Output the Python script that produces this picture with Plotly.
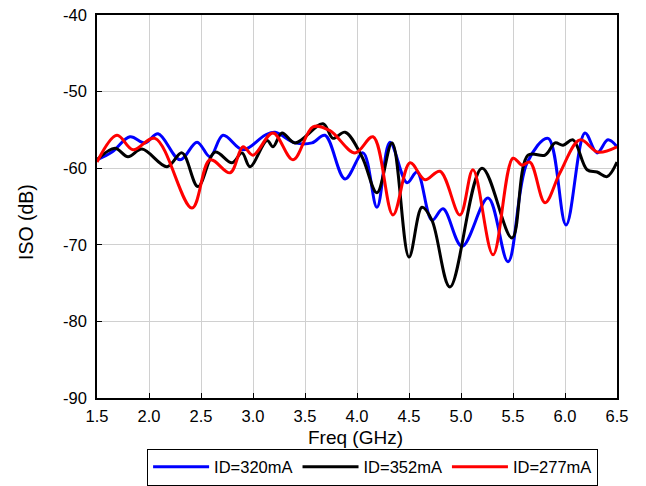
import plotly.graph_objects as go

# Blue: ID=320mA
f_320 = [1.5, 1.644, 1.817, 1.962, 2.087, 2.298, 2.462, 2.587, 2.712, 2.904, 3.115, 3.212, 3.404, 3.567,
         3.692, 3.885, 4.058, 4.192, 4.317, 4.481, 4.577, 4.721, 4.827, 5.010, 5.260, 5.452, 5.635,
         5.837, 6.010, 6.192, 6.308, 6.413, 6.5]
iso_320 = [-58.9, -57.9, -55.9, -56.7, -55.5, -58.9, -56.6, -58.5, -55.7, -57.6, -55.7, -55.3, -56.7, -56.7,
           -55.7, -61.4, -58.0, -65.1, -56.6, -61.9, -60.5, -66.8, -65.3, -70.2, -63.9, -72.2, -59.3,
           -56.1, -67.4, -55.4, -58.0, -56.3, -57.2]

# Black: ID=352mA
f_352 = [1.5, 1.673, 1.798, 1.933, 2.173, 2.317, 2.471, 2.635, 2.798, 2.894, 2.971, 3.135, 3.192, 3.279,
         3.404, 3.673, 3.769, 3.885, 4.048, 4.192, 4.337, 4.500, 4.625, 4.721, 4.894, 5.202, 5.490,
         5.644, 5.808, 5.904, 5.981, 6.077, 6.212, 6.308, 6.404, 6.5]
iso_352 = [-58.9, -57.4, -58.5, -57.5, -59.8, -58.0, -62.4, -57.9, -59.3, -58.0, -59.8, -56.4, -57.2, -55.4,
           -56.7, -54.2, -56.1, -55.3, -58.5, -63.2, -56.7, -71.6, -65.1, -66.8, -75.5, -60.0, -69.1,
           -58.3, -58.3, -56.7, -57.0, -56.3, -60.2, -60.5, -61.1, -59.2]

# Red: ID=277mA
f_277 = [1.5, 1.692, 1.846, 2.058, 2.413, 2.587, 2.779, 2.904, 3.000, 3.192, 3.385, 3.577, 3.740, 3.981,
         4.154, 4.346, 4.510, 4.654, 4.798, 4.990, 5.115, 5.308, 5.500, 5.587, 5.663, 5.808, 5.952,
         6.144, 6.317, 6.5]
iso_277 = [-59.2, -55.7, -57.6, -56.1, -65.2, -58.9, -60.6, -57.2, -58.3, -55.4, -58.9, -54.6, -55.1, -58.0,
           -55.9, -66.1, -59.3, -61.5, -60.4, -66.1, -60.2, -71.3, -58.7, -59.6, -59.2, -64.5, -60.6,
           -56.3, -57.9, -57.2]

x_ticks = [1.5, 2.0, 2.5, 3.0, 3.5, 4.0, 4.5, 5.0, 5.5, 6.0, 6.5]
y_ticks = [-90, -80, -70, -60, -50, -40]

series = [
    ("ID=320mA", f_320, iso_320, "#0000ff"),
    ("ID=352mA", f_352, iso_352, "#000000"),
    ("ID=277mA", f_277, iso_277, "#ff0000"),
]

fig = go.Figure()
for name, xs, ys, col in series:
    fig.add_trace(go.Scatter(x=xs, y=ys, mode="lines", name=name,
                             line=dict(color=col, width=3, shape="spline", smoothing=1.0)))

font_family = "Liberation Sans, Arial, sans-serif"
axis_common = dict(showline=True, linecolor="black", linewidth=1.5, mirror=True,
                   showgrid=True, gridcolor="#d0d0d0", gridwidth=1,
                   ticks="inside", ticklen=5, tickcolor="black", zeroline=False,
                   automargin=False,
                   tickfont=dict(family=font_family, size=16.5, color="black"))

fig.update_layout(
    width=646, height=486,
    margin=dict(l=97, r=29, t=15, b=88, autoexpand=False),
    paper_bgcolor="white", plot_bgcolor="white",
    font=dict(family=font_family, color="black"),
    xaxis=dict(range=[1.5, 6.5], tickvals=x_ticks, ticktext=[f"{v:.1f}" for v in x_ticks],
               ticklabelstandoff=2, **axis_common),
    yaxis=dict(range=[-90, -40], tickvals=y_ticks, ticktext=[str(v) for v in y_ticks],
               ticklabelstandoff=5, **axis_common),
    legend=dict(orientation="h", x=0.53, xanchor="center", y=-0.2285, yanchor="bottom",
                bordercolor="black", borderwidth=1, bgcolor="white",
                itemwidth=56,
                font=dict(size=16.5, family=font_family), tracegroupgap=0),
    annotations=[
        dict(text="Freq (GHz)", x=0.498, y=-0.1044, xref="paper", yref="paper",
             xanchor="center", yanchor="middle", showarrow=False,
             font=dict(size=19, family=font_family, color="black")),
        dict(text="ISO (dB)", x=-0.1365, y=0.4595, xref="paper", yref="paper",
             xanchor="center", yanchor="middle", showarrow=False, textangle=-90,
             font=dict(size=19.5, family=font_family, color="black")),
    ],
    showlegend=True,
)

fig.write_html("out.html")
